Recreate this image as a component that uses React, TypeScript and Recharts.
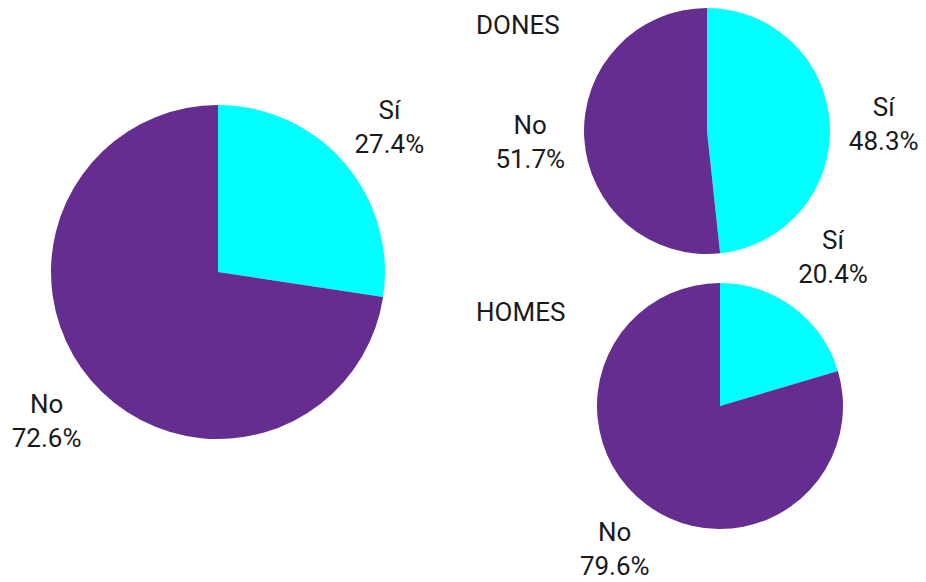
import React from "react";
import { PieChart, Pie, Cell } from "recharts";

// ---------------------------------------------------------------------------
// Datos
// ---------------------------------------------------------------------------
const CATEGORIES = ["Sí", "No"];
const TOTAL_VALUES = [27.4, 72.6];
const DONES_VALUES = [48.3, 51.7];
const HOMES_VALUES = [20.4, 79.6];
const GROUP_TITLES = ["DONES", "HOMES"];

const COLORS = ["#00FFFF", "#652D90"];
const FONT = "Roboto, 'Noto Sans', sans-serif";
const RAD = Math.PI / 180;

function toRows(values: number[]) {
  return CATEGORIES.map((name, i) => ({ name, value: values[i] }));
}

// etiqueta de dos líneas (categoría + porcentaje), centrada fuera de la tarta
function makeLabel(dists: number[]) {
  return (props: any) => {
    const { cx, cy, midAngle, name, percent, index } = props;
    const dist = dists[index] ?? dists[0];
    const x = cx + dist * Math.cos(-midAngle * RAD);
    const y = cy + dist * Math.sin(-midAngle * RAD);
    return (
      <text
        x={x}
        y={y}
        textAnchor="middle"
        fontFamily={FONT}
        fontSize={26}
        fill="#1a1a1a"
      >
        <tspan x={x} dy={-6}>
          {name}
        </tspan>
        <tspan x={x} dy={34}>
          {`${(percent * 100).toFixed(1)}%`}
        </tspan>
      </text>
    );
  };
}

export default function App() {
  // cx/cy relativos al área del gráfico (margen por defecto de 5px)
  const pies = [
    { values: TOTAL_VALUES, cx: 213, cy: 267, r: 167, dists: [226, 226] },
    { values: DONES_VALUES, cx: 702, cy: 126, r: 123, dists: [177, 177] },
    { values: HOMES_VALUES, cx: 715, cy: 401, r: 123, dists: [189, 176] },
  ];
  return (
    <div
      style={{
        position: "absolute",
        left: 0,
        top: 0,
        width: 926,
        height: 582,
        background: "#fff",
        fontFamily: FONT,
      }}
    >
      <PieChart width={926} height={582}>
        {pies.map((p, k) => (
          <Pie
            key={k}
            data={toRows(p.values)}
            dataKey="value"
            nameKey="name"
            cx={p.cx}
            cy={p.cy}
            outerRadius={p.r}
            innerRadius={0}
            startAngle={90}
            endAngle={-270}
            stroke="none"
            labelLine={false}
            label={makeLabel(p.dists)}
            isAnimationActive={false}
          >
            {CATEGORIES.map((c, i) => (
              <Cell key={c} fill={COLORS[i]} />
            ))}
          </Pie>
        ))}
      </PieChart>
      <div
        style={{
          position: "absolute",
          left: 476,
          top: 10,
          fontSize: 26,
          color: "#1a1a1a",
          lineHeight: "30px",
        }}
      >
        {GROUP_TITLES[0]}
      </div>
      <div
        style={{
          position: "absolute",
          left: 476,
          top: 297,
          fontSize: 26,
          color: "#1a1a1a",
          lineHeight: "30px",
        }}
      >
        {GROUP_TITLES[1]}
      </div>
    </div>
  );
}
